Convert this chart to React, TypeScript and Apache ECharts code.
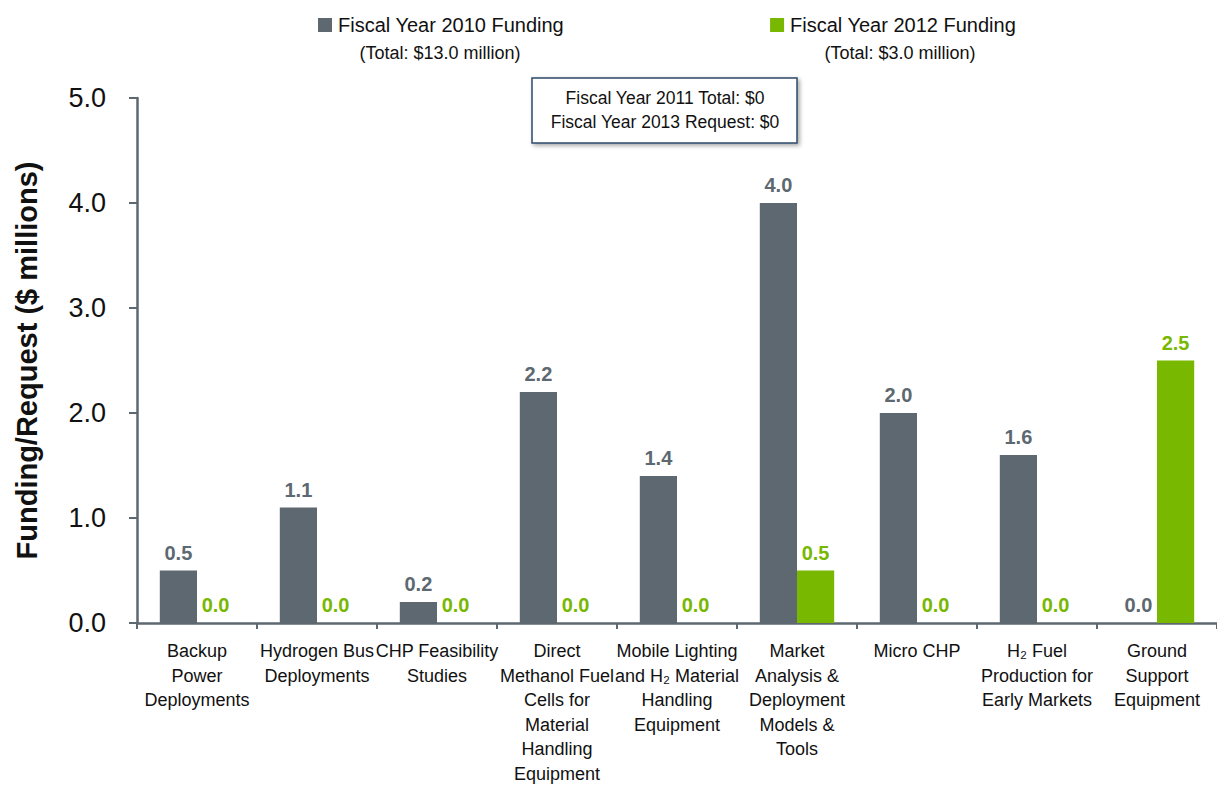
import React, { useEffect, useRef } from "react";
import * as echarts from "echarts";

const categories = [
  "Backup\nPower\nDeployments",
  "Hydrogen Bus\nDeployments",
  "CHP Feasibility\nStudies",
  "Direct\nMethanol Fuel\nCells for\nMaterial\nHandling\nEquipment",
  "Mobile Lighting\nand H₂ Material\nHandling\nEquipment",
  "Market\nAnalysis &\nDeployment\nModels &\nTools",
  "Micro CHP",
  "H₂ Fuel\nProduction for\nEarly Markets",
  "Ground\nSupport\nEquipment",
];
const fy2010 = [0.5, 1.1, 0.2, 2.2, 1.4, 4.0, 2.0, 1.6, 0.0];
const fy2012 = [0.0, 0.0, 0.0, 0.0, 0.0, 0.5, 0.0, 0.0, 2.5];
const seriesNames = ["Fiscal Year 2010 Funding", "Fiscal Year 2012 Funding"];
const totals = ["(Total: $13.0 million)", "(Total: $3.0 million)"];
const noteLines = ["Fiscal Year 2011 Total: $0", "Fiscal Year 2013 Request: $0"];
const yTitle = "Funding/Request ($ millions)";

const GRAY = "#5d6870";
const GREEN = "#78b800";
const FONT = "'Liberation Sans', Arial, sans-serif";

export default function App() {
  const ref = useRef<HTMLDivElement>(null);
  useEffect(() => {
    if (!ref.current) return;
    const chart = echarts.init(ref.current, null, { renderer: "svg" });
    const labelStyle = (color: string) => ({
      show: true,
      position: "top" as const,
      distance: 8,
      color,
      fontSize: 20,
      fontWeight: "bold" as const,
      fontFamily: FONT,
      formatter: (p: any) => Number(p.value).toFixed(1),
    });
    chart.setOption({
      animation: false,
      textStyle: { fontFamily: FONT },
      legend: {
        left: 313,
        top: 10,
        itemWidth: 14,
        itemHeight: 14,
        itemGap: 206,
        icon: "rect",
        textStyle: { fontSize: 20, color: "#111", fontFamily: FONT, padding: [0, 0, 0, 1] },
        data: seriesNames,
      },
      grid: { left: 137, right: -4, top: 98, bottom: 158 },
      xAxis: {
        type: "category",
        data: categories,
        axisLine: { lineStyle: { color: GRAY, width: 2.5 } },
        axisTick: { show: true, length: 6, lineStyle: { color: GRAY, width: 2 } },
        axisLabel: {
          interval: 0,
          margin: 16,
          fontSize: 18,
          lineHeight: 24.5,
          color: "#111",
          fontFamily: FONT,
        },
      },
      yAxis: {
        type: "value",
        min: 0,
        max: 5,
        interval: 1,
        name: yTitle,
        nameLocation: "middle",
        nameGap: 96,
        nameTextStyle: { fontSize: 29, fontWeight: "bold", color: "#111", fontFamily: FONT },
        splitLine: { show: false },
        axisLine: { show: true, lineStyle: { color: GRAY, width: 2.5 } },
        axisTick: { show: true, length: 8, lineStyle: { color: GRAY, width: 2 } },
        axisLabel: {
          margin: 31,
          fontSize: 27,
          color: "#111",
          fontFamily: FONT,
          formatter: (v: number) => v.toFixed(1),
        },
      },
      series: [
        {
          name: seriesNames[0],
          type: "bar",
          data: fy2010,
          barGap: "0%",
          barCategoryGap: "38%",
          itemStyle: { color: GRAY },
          label: labelStyle(GRAY),
        },
        {
          name: seriesNames[1],
          type: "bar",
          data: fy2012,
          barGap: "0%",
          barCategoryGap: "38%",
          itemStyle: { color: GREEN },
          label: labelStyle(GREEN),
        },
      ],
      graphic: [
        {
          type: "text",
          x: 440,
          y: 53,
          style: { text: totals[0], font: `18px ${FONT}`, fill: "#111", align: "center", verticalAlign: "middle" },
        },
        {
          type: "text",
          x: 900,
          y: 53,
          style: { text: totals[1], font: `18px ${FONT}`, fill: "#111", align: "center", verticalAlign: "middle" },
        },
        {
          type: "rect",
          shape: { x: 532, y: 78, width: 265, height: 65 },
          style: {
            fill: "#fff",
            stroke: "#2e4a6b",
            lineWidth: 1.5,
            shadowBlur: 4,
            shadowOffsetX: 2,
            shadowOffsetY: 2,
            shadowColor: "rgba(0,0,0,0.35)",
          },
        },
        {
          type: "text",
          x: 665,
          y: 110,
          style: {
            text: noteLines.join("\n"),
            font: `17.5px ${FONT}`,
            fill: "#111",
            align: "center",
            verticalAlign: "middle",
            lineHeight: 24,
          },
        },
      ],
    });
    return () => chart.dispose();
  }, []);
  return (
    <div
      ref={ref}
      style={{ position: "absolute", left: 0, top: 0, width: 1217, height: 786, background: "#fff" }}
    />
  );
}
